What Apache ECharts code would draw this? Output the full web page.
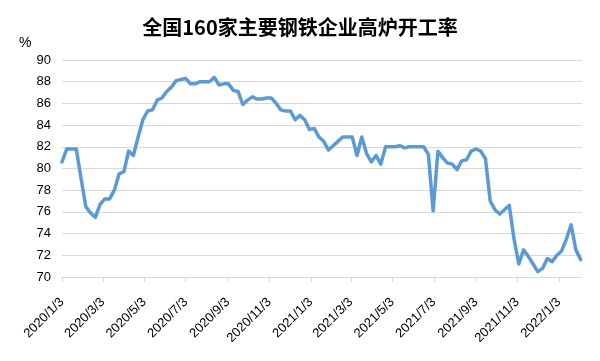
<!DOCTYPE html>
<html>
<head>
<meta charset="utf-8">
<script src="https://cdn.jsdelivr.net/npm/echarts@6/dist/echarts.min.js"></script>
<style>html,body{margin:0;padding:0;background:#fff;}#c{width:600px;height:361px;}</style>
</head>
<body>
<div id="c"></div>
<script>
const titleText = '全国160家主要钢铁企业高炉开工率';
const unitText = '%';
const firstDate = '2020/1/3';
const stepDays = 7; // weekly observations
const tickLabels = ['2020/1/3','2020/3/3','2020/5/3','2020/7/3','2020/9/3','2020/11/3','2021/1/3','2021/3/3','2021/5/3','2021/7/3','2021/9/3','2021/11/3','2022/1/3'];
const rateValues = [
  80.6, 81.8, 81.8, 81.8, 79.1, 76.5, 75.9, 75.5, 76.7, 77.2,
  77.2, 78.0, 79.5, 79.7, 81.6, 81.2, 82.9, 84.5, 85.3, 85.4,
  86.3, 86.5, 87.1, 87.5, 88.1, 88.2, 88.3, 87.8, 87.8, 88.0,
  88.0, 88.0, 88.4, 87.7, 87.8, 87.8, 87.2, 87.1, 85.9, 86.3,
  86.6, 86.4, 86.4, 86.5, 86.5, 86.0, 85.4, 85.3, 85.3, 84.5,
  84.9, 84.5, 83.6, 83.7, 82.9, 82.5, 81.7, 82.1, 82.5, 82.9,
  82.9, 82.9, 81.2, 82.9, 81.4, 80.6, 81.2, 80.4, 82.0, 82.0,
  82.0, 82.1, 81.9, 82.0, 82.0, 82.0, 82.0, 81.3, 76.1, 81.6,
  81.0, 80.5, 80.4, 79.9, 80.7, 80.8, 81.6, 81.8, 81.6, 80.9,
  77.0, 76.2, 75.8, 76.2, 76.6, 73.5, 71.2, 72.5, 71.9, 71.2,
  70.5, 70.8, 71.7, 71.4, 72.0, 72.4, 73.5, 74.8, 72.5, 71.6
];

const DAY = 86400000;
function toDay(s) {
  const p = s.split('/').map(Number);
  const b = firstDate.split('/').map(Number);
  return Math.round((Date.UTC(p[0], p[1]-1, p[2]) - Date.UTC(b[0], b[1]-1, b[2])) / DAY);
}
const tickDays = tickLabels.map(toDay);
const lastDay = (rateValues.length - 1) * stepDays;
const seriesData = rateValues.map((v, i) => [i * stepDays, v]);

const chart = echarts.init(document.getElementById('c'), null, {renderer: 'canvas'});
const axisFont = '"Liberation Sans", Arial, sans-serif';
chart.setOption({
  animation: false,
  backgroundColor: '#fff',
  title: {
    text: titleText, left: 'center', top: 17, padding: 0,
    textStyle: {fontFamily: '"Noto Sans CJK SC", sans-serif', fontWeight: 'bold', fontSize: 20, color: '#000'}
  },
  graphic: [{
    type: 'text', left: 19, top: 36,
    style: {text: unitText, font: '14px "Liberation Sans", Arial, sans-serif', fill: '#000'}
  }],
  grid: {left: 62, right: 18, top: 60, bottom: 84},
  xAxis: {
    type: 'value', min: 0, max: lastDay + 2,
    axisLine: {show: true, lineStyle: {color: '#d9d9d9', width: 1}},
    axisTick: {show: true, customValues: tickDays, length: 5, lineStyle: {color: '#d9d9d9'}},
    axisLabel: {
      customValues: tickDays, rotate: 45, margin: 23, fontSize: 13, color: '#000', fontFamily: axisFont,
      formatter: function (v) { const k = tickDays.indexOf(Math.round(v)); return k >= 0 ? tickLabels[k] : ''; }
    },
    splitLine: {show: false}
  },
  yAxis: {
    type: 'value', min: 70, max: 90, interval: 2,
    axisLine: {show: false}, axisTick: {show: false},
    axisLabel: {margin: 11, fontSize: 13, color: '#000', fontFamily: axisFont},
    splitLine: {lineStyle: {color: '#d9d9d9', width: 1}}
  },
  series: [{
    type: 'line', data: seriesData, showSymbol: false, symbol: 'none',
    lineStyle: {color: '#5b9bd5', width: 3.5, cap: 'round', join: 'round'},
    itemStyle: {color: '#5b9bd5'}
  }]
});
</script>
</body>
</html>
